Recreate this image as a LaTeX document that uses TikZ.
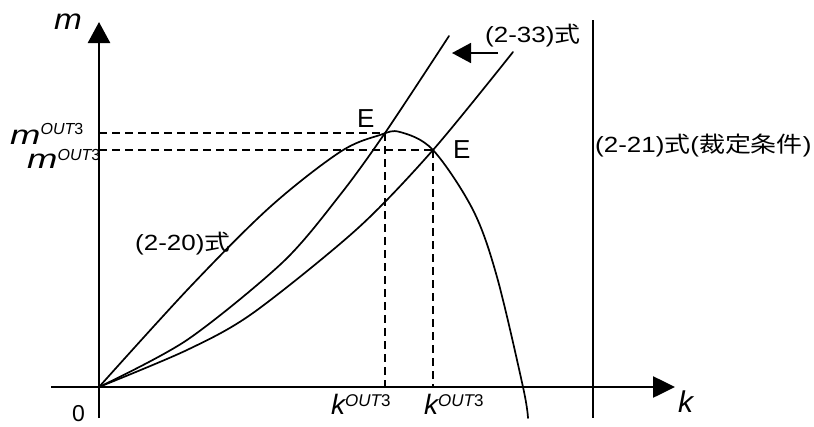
\documentclass[tikz,border=0pt]{standalone}
\usepackage{fontspec}
\setmainfont{Liberation Sans}
\newfontfamily\cjk{Noto Sans CJK JP}
\usetikzlibrary{arrows.meta}
\tikzset{
  axisline/.style={line width=2.6pt},
  frameline/.style={line width=2pt},
  curveline/.style={line width=1.7pt, line join=round, line cap=round},
  guide/.style={line width=1.8pt, dash pattern=on 8pt off 5pt},
  lbl/.style={inner sep=0pt, anchor=base west},
}
\newcommand{\wideTxt}[1]{\scalebox{1.18}[1]{\fontsize{22}{26}\selectfont #1}}
\newcommand{\mOut}[1]{{\scalebox{1.35}[1]{\fontsize{27}{30}\selectfont\itshape m}}\raisebox{#1}{\fontsize{16}{18}\selectfont\itshape OUT\upshape 3}}
\newcommand{\kOut}{{\fontsize{28}{32}\selectfont\itshape k}\raisebox{8pt}{\fontsize{17}{19}\selectfont\itshape OUT\upshape 3}}
\begin{document}
\begin{tikzpicture}[x=1pt,y=-1pt]
\useasboundingbox (0,0) rectangle (814,426);
% axes
\coordinate (O) at (99,387);
\coordinate (ytop) at (99,22);
\coordinate (ybot) at (99,418);
\coordinate (xleft) at (51,387);
\coordinate (xright) at (675,387);
\draw[axisline] (ybot) -- (O);
\draw[axisline, -{Triangle[length=21pt,width=22pt]}] (O) -- (ytop);
\draw[axisline, -{Triangle[length=22pt,width=21pt]}] (xleft) -- (xright);
% vertical line (2-21)
\coordinate (vtop) at (593,20);
\coordinate (vbot) at (593,418);
\draw[frameline] (vtop) -- (vbot);
% equilibrium points
\coordinate (E1) at (385,133);
\coordinate (E2) at (433,150);
% dashed guides
\draw[guide] (O |- E1) -- (E1);
\draw[guide] (O |- E2) -- (E2);
\draw[guide] (E1) -- (E1 |- O);
\draw[guide] (E2) -- (E2 |- O);
% (2-20) curve
\draw[curveline] plot[smooth, tension=0.55] coordinates {(99,387) (190,287) (270,207) (340,152) (380,135) (400,132) (433,150) (473,210) (497,277) (523,387) (528,418)};
% (2-33) curves
\draw[curveline] plot[smooth, tension=0.5] coordinates {(99,387) (187,340) (283,262) (340,195) (385,133) (449,36)};
\draw[curveline] plot[smooth, tension=0.5] coordinates {(99,387) (187,350) (253,313) (357,229) (433,150) (513,52)};
% shift arrow
\coordinate (a1) at (498,53);
\coordinate (a2) at (452,53);
\draw[curveline, line cap=butt, -{Triangle[length=19pt,width=20pt]}] (a1) -- (a2);
% labels
\node[lbl] (lm) at (54,29) {\scalebox{1.15}[1]{\fontsize{29}{32}\selectfont\itshape m}};
\node[lbl] (lk) at (678,412) {\fontsize{30}{34}\selectfont\itshape k};
\node[lbl] (l0) at (72,421) {\fontsize{23}{26}\selectfont 0};
\node[lbl] (m1) at (10,144) {\mOut{10pt}};
\node[lbl] (m2) at (27,168) {\mOut{8pt}};
\node[lbl] (k1) at (331,414) {\kOut};
\node[lbl] (k2) at (424,414) {\kOut};
\node[lbl] (e1) at (357,127) {\fontsize{26}{30}\selectfont E};
\node[lbl] (e2) at (453,158) {\fontsize{26}{30}\selectfont E};
\node[lbl] (t33) at (485,42) {\wideTxt{(2-33){\cjk 式}}};
\node[lbl] (t20) at (135,250) {\wideTxt{(2-20){\cjk 式}}};
\node[lbl] (t21) at (595,152) {\wideTxt{(2-21){\cjk 式}({\cjk 裁定条件})}};
\end{tikzpicture}
\end{document}
